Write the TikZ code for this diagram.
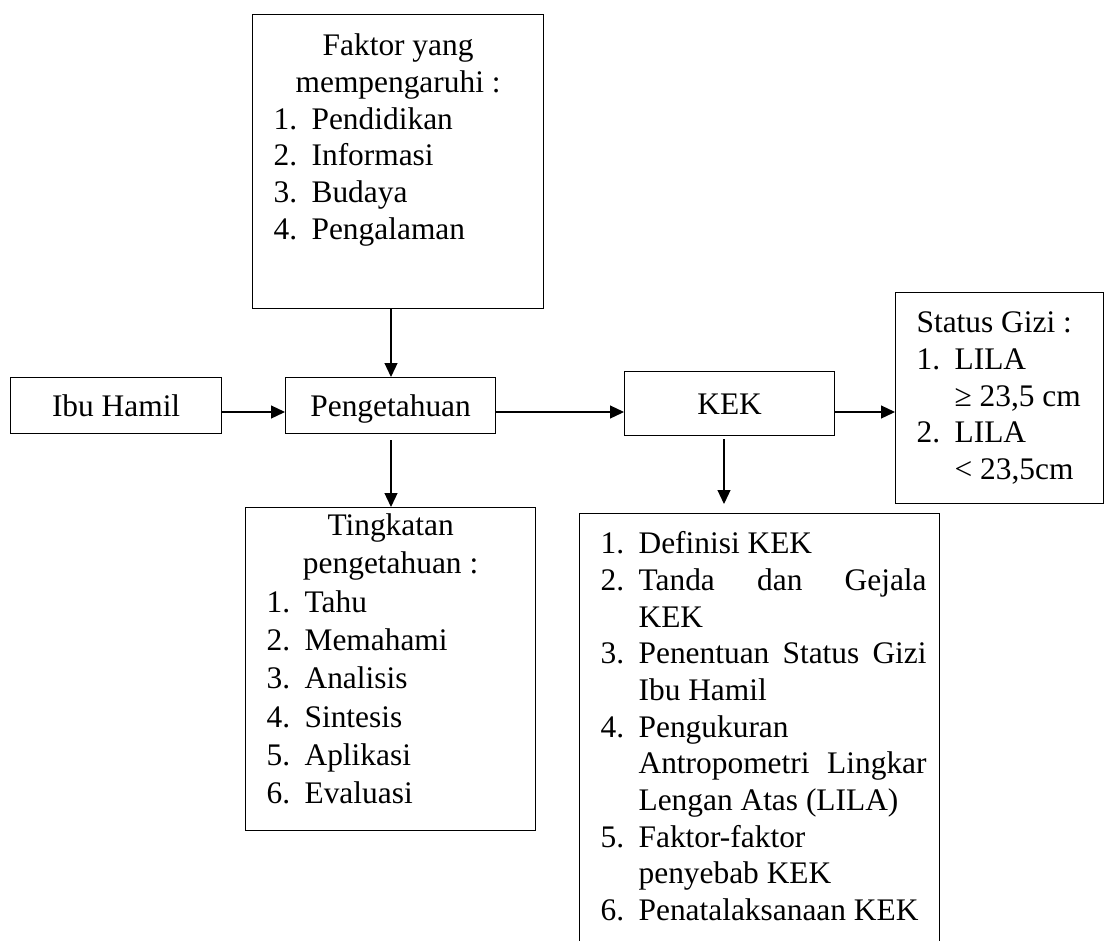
\documentclass[tikz,border=0pt]{standalone}
\usepackage{fontspec}
\setmainfont{Liberation Serif}
\usetikzlibrary{arrows.meta,positioning,calc}

% list lines inside the boxes
\newcommand{\hdr}[1]{\makebox[\linewidth][c]{#1}\par}
\newcommand{\itm}[2]{\hspace*{21pt}\makebox[38pt][l]{#1}#2\par}
\newcommand{\cnt}[1]{\hspace*{59pt}#1\par}
\newcommand{\jst}[1]{\makebox[288pt][s]{#1}}
\newcommand{\boxtext}[5]{\parbox[c][#2][t]{#1}{\fontsize{31.4}{#4}\selectfont\rule{0pt}{#3}#5}}

\begin{document}
\begin{tikzpicture}[x=1pt, y=-1pt,
    box/.style={draw, line width=1.2pt, inner sep=0pt},
    single/.style={box, text height=22pt, text depth=0pt, font=\fontsize{31.4}{36}\selectfont},
    arr/.style={line width=1.2pt, -{Triangle[length=14pt, width=13pt]}}]
    \path[use as bounding box, clip] (0,0) rectangle (1115,940);

    \node [single, anchor=north west, minimum width=211pt, minimum height=56pt] (ibu) at (10,377) {Ibu Hamil};
    \node [single, anchor=north west, minimum width=210pt, minimum height=56pt] (tahu) at (285,377) {Pengetahuan};
    \node [single, anchor=north west, minimum width=210pt, minimum height=64pt] (kek) at (624,371) {KEK};

    \node [box, anchor=north west] (faktor) at (252,14) {\boxtext{291pt}{294pt}{41pt}{36.7}{%
        \hdr{Faktor yang}\hdr{mempengaruhi :}%
        \itm{1.}{Pendidikan}\itm{2.}{Informasi}\itm{3.}{Budaya}\itm{4.}{Pengalaman}}};
    \node [box, anchor=north west] (status) at (895,292) {\boxtext{208pt}{211pt}{40pt}{36.7}{%
        \hspace*{21pt}Status Gizi :\par
        \itm{1.}{LILA}\cnt{≥ 23,5 cm}\itm{2.}{LILA}\cnt{< 23,5cm}}};
    \node [box, anchor=north west] (tingkat) at (245,507) {\boxtext{290pt}{323pt}{28pt}{38.3}{%
        \hdr{Tingkatan}\hdr{pengetahuan :}%
        \itm{1.}{Tahu}\itm{2.}{Memahami}\itm{3.}{Analisis}%
        \itm{4.}{Sintesis}\itm{5.}{Aplikasi}\itm{6.}{Evaluasi}}};
    \node [box, anchor=north west] (kekinfo) at (579,513) {\boxtext{360pt}{440pt}{40pt}{36.7}{%
        \itm{1.}{Definisi KEK}\itm{2.}{\jst{Tanda dan Gejala}}\cnt{KEK}%
        \itm{3.}{\jst{Penentuan Status Gizi}}\cnt{Ibu Hamil}%
        \itm{4.}{Pengukuran}\cnt{\jst{Antropometri Lingkar}}\cnt{Lengan Atas (LILA)}%
        \itm{5.}{Faktor-faktor}\cnt{penyebab KEK}\itm{6.}{Penatalaksanaan KEK}}};

    \coordinate (row) at (0,412);
    \coordinate (colA) at (391,0);
    \coordinate (colB) at (724,0);

    \draw [arr] (faktor.south -| colA) -- (tahu.north -| colA);
    \draw [arr] (ibu.east |- row) -- (tahu.west |- row);
    \draw [arr] (tahu.east |- row) -- (kek.west |- row);
    \draw [arr] (kek.east |- row) -- (status.west |- row);
    \draw [arr, shorten <=6pt] (tahu.south -| colA) -- (tingkat.north -| colA);
    \draw [arr, shorten <=3pt, shorten >=9pt] (kek.south -| colB) -- (kekinfo.north -| colB);
\end{tikzpicture}
\end{document}
